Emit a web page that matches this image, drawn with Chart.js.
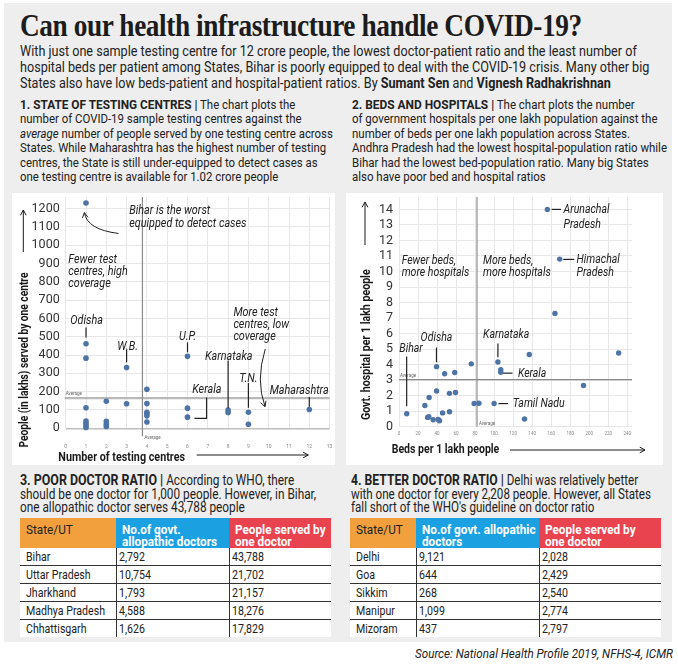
<!DOCTYPE html>
<html><head><meta charset="utf-8">
<script src="https://cdn.jsdelivr.net/npm/chart.js@4"></script>
<style>
body{margin:0;width:678px;height:664px;background:#fff;position:relative;overflow:hidden;font-family:Roboto,'Liberation Sans',sans-serif;color:#222}
.abs{position:absolute;white-space:nowrap}
#bg{left:4px;top:3px;width:668px;height:639px;background:#eeeeee}
#title{left:20px;top:7px;font:bold 32px 'Liberation Serif',serif;letter-spacing:-0.5px;color:#1c1c1c}
#sub{left:20px;top:44px;font-size:14.5px;line-height:16px}
.sec{font-size:13px;line-height:14.4px}
.sec b{font-size:13.5px}
.sec2{font-size:13.8px;line-height:13.6px}
.sec2 b{font-size:14.5px}
.panel{background:#fff}
table{border-collapse:collapse;position:absolute;table-layout:fixed}
th{font-weight:bold;color:#fff;text-align:left;vertical-align:top;font-size:13px;line-height:12px;padding:6px 0 0 6px;height:24px;white-space:nowrap;overflow:visible}
th.o{background:#f2a03d;color:#222;font-weight:normal}
th.b{background:#1ba1e2}
th.r{background:#e8434f}
td{font-size:13.5px;height:17px;line-height:17px;padding:0 0 0 6px;background:#fff;border-bottom:1px solid #333;white-space:nowrap;overflow:visible}
td+td{border-left:1.5px solid #333;padding-left:2px}
tr:last-child td{border-bottom:none}
.k{display:inline-block;transform-origin:0 50%}
#src{top:645px;font-style:italic;font-size:13.5px}
</style></head>
<body>
<div id="bg" class="abs"></div>
<div id="title" class="abs">Can our health infrastructure handle COVID-19?</div>
<div id="sub" class="abs">With just one sample testing centre for 12 crore people, the lowest doctor-patient ratio and the least number of<br>hospital beds per patient among States, Bihar is poorly equipped to deal with the COVID-19 crisis. Many other big<br>States also have low beds-patient and hospital-patient ratios. By <b>Sumant Sen</b> and <b>Vignesh Radhakrishnan</b></div>
<div id="s1" class="abs sec" style="left:20px;top:97px"><b>1. STATE OF TESTING CENTRES |</b> The chart plots the<br>number of COVID-19 sample testing centres against the<br><i>average</i> number of people served by one testing centre across<br>States. While Maharashtra has the highest number of testing<br>centres, the State is still under-equipped to detect cases as<br>one testing centre is available for 1.02 crore people</div>
<div id="s2" class="abs sec" style="left:352px;top:97px"><b>2. BEDS AND HOSPITALS |</b> The chart plots the number<br>of government hospitals per one lakh population against the<br>number of beds per one lakh population across States.<br>Andhra Pradesh had the lowest hospital-population ratio while<br>Bihar had the lowest bed-population ratio. Many big States<br>also have poor bed and hospital ratios</div>
<div class="abs panel" style="left:12px;top:193px;width:323px;height:272px"><canvas id="c1" width="323" height="272"></canvas></div>
<div class="abs panel" style="left:346px;top:193px;width:317px;height:272px"><canvas id="c2" width="317" height="272"></canvas></div>
<div id="s3" class="abs sec2" style="left:20px;top:474px"><b>3. POOR DOCTOR RATIO |</b> According to WHO, there<br>should be one doctor for 1,000 people. However, in Bihar,<br>one allopathic doctor serves 43,788 people</div>
<div id="s4" class="abs sec2" style="left:351px;top:474px"><b>4. BETTER DOCTOR RATIO |</b> Delhi was relatively better<br>with one doctor for every 2,208 people. However, all States<br>fall short of the WHO's guideline on doctor ratio</div>
<table id="t3" style="left:20px;top:518px;width:311px"><colgroup><col style="width:96px"><col style="width:113px"><col style="width:102px"></colgroup></table>
<table id="t4" style="left:350px;top:518px;width:311px"><colgroup><col style="width:66px"><col style="width:123px"><col style="width:122px"></colgroup></table>
<div id="src" class="abs">Source: National Health Profile 2019, NFHS-4, ICMR</div>
<script>
// ---------- DATA ----------
// Chart 1: testing centres vs people served per centre (lakhs)
const testCentres      = [1, 1, 1, 1, 1, 1, 1, 1, 2, 2, 2, 2, 3, 3, 4, 4, 4, 4, 4, 4, 6, 6, 6, 8, 8, 9, 9, 12];
const peoplePerCentre  = [1230, 462, 383, 112, 40, 28, 15, 4, 148, 38, 22, 10, 332, 134, 213, 135, 88, 80, 68, 34, 393, 110, 61, 100, 86, 88, 22, 103];
const testAvgCentres = 3.78;
const testAvgPeople  = 165;
const testXTicks = [0,1,2,3,4,5,6,7,8,9,10,11,12,13];
const testYTicks = [0,100,200,300,400,500,600,700,800,900,1000,1100,1200];
// Chart 2: beds vs hospitals per lakh
const bedsPerLakh      = [156, 169, 164, 231, 137, 194, 132, 104, 107, 107, 100, 79, 84, 76, 39.5, 48, 58.6, 39.5, 53, 59.4, 31.7, 27.2, 8.1, 30.1, 31.4, 35.9, 41.2, 42.6, 45.8, 53.1];
const hospitalsPerLakh = [14.0, 10.8, 7.3, 4.75, 4.65, 2.65, 0.5, 4.17, 3.68, 3.51, 1.49, 1.49, 1.51, 4.05, 3.87, 3.41, 3.49, 2.30, 2.15, 2.20, 1.88, 1.37, 0.83, 0.60, 0.64, 0.45, 0.47, 0.38, 0.89, 0.96];
const bedsAvg = 82;
const hospAvg = 3.03;
const bedsXTicks = [0,20,40,60,80,100,120,140,160,180,200,220,240];
const hospYTicks = [0,1,2,3,4,5,6,7,8,9,10,11,12,13,14];
// Tables
const t3States  = ['Bihar','Uttar Pradesh','Jharkhand','Madhya Pradesh','Chhattisgarh'];
const t3Doctors = ['2,792','10,754','1,793','4,588','1,626'];
const t3Served  = ['43,788','21,702','21,157','18,276','17,829'];
const t4States  = ['Delhi','Goa','Sikkim','Manipur','Mizoram'];
const t4Doctors = ['9,121','644','268','1,099','437'];
const t4Served  = ['2,028','2,429','2,540','2,774','2,797'];

// ---------- helpers ----------
const mctx = document.createElement('canvas').getContext('2d');
function textW(font, t){ mctx.font = font; return mctx.measureText(t).width; }
function fitEl(id, w){
  const el = document.getElementById(id);
  const nat = el.offsetWidth;
  el.style.transformOrigin = '0 0';
  el.style.transform = 'scaleX(' + (w/nat) + ')';
}

// ---------- TABLES ----------
const kBody = 79 / textW('13.5px Roboto', 'Madhya Pradesh');
const kHead = 95 / textW('bold 13px Roboto', 'allopathic doctors');
function sp(t, k){ return '<span class="k" style="transform:scaleX('+k+')">'+t+'</span>'; }
function fillTable(id, heads, a, b, c){
  const t = document.getElementById(id);
  let h = '<tr>' + ['o','b','r'].map((cl,i)=>'<th class="'+cl+'">'+heads[i].map(x=>sp(x,kHead)).join('<br>')+'</th>').join('') + '</tr>';
  a.forEach((s,i)=>{ h += '<tr><td>'+sp(s,kBody)+'</td><td>'+sp(b[i],kBody)+'</td><td>'+sp(c[i],kBody)+'</td></tr>'; });
  t.insertAdjacentHTML('beforeend', h);
}
fillTable('t3', [['State/UT'],['No.of govt.','allopathic doctors'],['People served by','one doctor']], t3States, t3Doctors, t3Served);
fillTable('t4', [['State/UT'],['No.of govt. allopathic','doctors'],['People served by','one doctor']], t4States, t4Doctors, t4Served);

fitEl('title', 562);
fitEl('sub', 629);
fitEl('s1', 313);
fitEl('s2', 315);
fitEl('s3', 296);
fitEl('s4', 300);
(function(){ const el=document.getElementById('src'); const nat=el.offsetWidth; const w=258; el.style.left=(673-w)+'px'; el.style.transformOrigin='0 0'; el.style.transform='scaleX('+(w/nat)+')'; })();

// ---------- CHARTS ----------
const F = "Roboto,'Liberation Sans',sans-serif";
const DOT = '#4e74a6';

function arrowHead(ctx, x, y, ang, s){
  ctx.beginPath();
  ctx.moveTo(x - s*Math.cos(ang-0.5), y - s*Math.sin(ang-0.5));
  ctx.lineTo(x, y);
  ctx.lineTo(x - s*Math.cos(ang+0.5), y - s*Math.sin(ang+0.5));
  ctx.stroke();
}
function fillK(ctx, t, x, y, align, k){
  ctx.save(); ctx.translate(x, y); ctx.scale(k, 1); ctx.textAlign = align; ctx.fillText(t, 0, 0); ctx.restore();
}
function noPad(s){ s.paddingTop = 0; s.paddingBottom = 0; s.paddingLeft = 0; s.paddingRight = 0; }

function decor(cfg){
  return {
    id:'decor',
    beforeDatasetsDraw(chart){
      const {ctx, chartArea:a, scales:{x,y}} = chart;
      ctx.save();
      const ax = x.getPixelForValue(cfg.avgX), ay = y.getPixelForValue(cfg.avgY);
      ctx.strokeStyle = cfg.hColor; ctx.lineWidth = cfg.hWidth;
      ctx.beginPath(); ctx.moveTo(a.left - cfg.hExtL, ay); ctx.lineTo(a.right, ay); ctx.stroke();
      ctx.strokeStyle = '#8a8a8a'; ctx.lineWidth = 1.2;
      ctx.beginPath(); ctx.moveTo(ax, a.top); ctx.lineTo(ax, a.bottom + cfg.vExt); ctx.stroke();
      ctx.fillStyle = '#666'; ctx.font = '4.5px ' + F; ctx.textBaseline = 'middle'; ctx.textAlign = 'left';
      ctx.fillText('Average', a.left - cfg.hExtL + 1, ay - 4);
      ctx.fillText('Average', ax + 2, a.bottom + cfg.vLab);
      ctx.restore();
    },
    afterDatasetsDraw(chart){
      const {ctx, scales:{x,y}} = chart;
      ctx.save();
      ctx.strokeStyle = '#222'; ctx.lineWidth = 1.2;
      cfg.lines.forEach(l=>{
        ctx.beginPath();
        l.forEach((p,i)=>{ const px=x.getPixelForValue(p[0]), py=y.getPixelForValue(p[1]); i?ctx.lineTo(px,py):ctx.moveTo(px,py); });
        ctx.stroke();
      });
      (cfg.curves||[]).forEach(c=>{
        const p0=[x.getPixelForValue(c.from[0]),y.getPixelForValue(c.from[1])];
        const pc=[x.getPixelForValue(c.ctrl[0]),y.getPixelForValue(c.ctrl[1])];
        const p1=[x.getPixelForValue(c.to[0]),y.getPixelForValue(c.to[1])];
        ctx.lineWidth = 1;
        ctx.beginPath(); ctx.moveTo(p0[0],p0[1]); ctx.quadraticCurveTo(pc[0],pc[1],p1[0],p1[1]); ctx.stroke();
        arrowHead(ctx, p1[0], p1[1], Math.atan2(p1[1]-pc[1], p1[0]-pc[0]), 6);
      });
      const nf = 'italic ' + cfg.noteSize + 'px ' + F;
      ctx.fillStyle = '#222'; ctx.font = nf; ctx.textBaseline = 'middle';
      const k = cfg.noteRef[1] / ctx.measureText(cfg.noteRef[0]).width;
      cfg.notes.forEach(n=>{
        const px = x.getPixelForValue(n.x), py = y.getPixelForValue(n.y);
        n.text.forEach((t,i)=>fillK(ctx, t, px, py + i*(n.lh||12), n.align||'left', k));
      });
      ctx.font = 'bold 12.5px ' + F; ctx.fillStyle = '#1a1a1a'; ctx.strokeStyle = '#1a1a1a'; ctx.lineWidth = 1;
      const yt = cfg.yTitle;
      const ky = yt.w / ctx.measureText(yt.text).width;
      ctx.save(); ctx.translate(yt.x, yt.y); ctx.rotate(-Math.PI/2); fillK(ctx, yt.text, 0, 0, 'center', ky); ctx.restore();
      ctx.beginPath(); ctx.moveTo(yt.ax, yt.a0); ctx.lineTo(yt.ax, yt.a1); ctx.stroke();
      arrowHead(ctx, yt.ax, yt.a1, -Math.PI/2, 6);
      const xt = cfg.xTitle;
      const kx = xt.w / ctx.measureText(xt.text).width;
      fillK(ctx, xt.text, xt.x, xt.y, 'left', kx);
      ctx.beginPath(); ctx.moveTo(xt.a0, xt.ay); ctx.lineTo(xt.a1, xt.ay); ctx.stroke();
      arrowHead(ctx, xt.a1, xt.ay, 0, 6);
      ctx.restore();
    }
  };
}

Chart.defaults.font.family = F;

const chart1Decor = {
  avgX: testAvgCentres, avgY: testAvgPeople, hColor:'#b8b8b8', hWidth:2.2, hExtL:1, vExt:8, vLab:10,
  noteSize: 13, noteRef: ['Maharashtra', 59],
  lines: [
    [[1,550],[1,496]], [[3,428],[3,361]], [[6,469],[6,415]], [[8,370],[8,110]],
    [[9,247],[9,112]], [[12,171],[12,117]], [[6.94,168],[6.94,54],[6.34,54]]
  ],
  curves: [
    {from:[2.6,1064], ctrl:[1.05,1085], to:[0.92,1178]},
    {from:[9.83,433], ctrl:[9.35,262], to:[9.82,118]}
  ],
  notes: [
    {text:['Bihar is the worst','equipped to detect cases'], x:3.13, y:1186, lh:12.4},
    {text:['Fewer test','centres, high','coverage'], x:0.13, y:920, lh:12},
    {text:['More test','centres, low','coverage'], x:8.26, y:631, lh:12},
    {text:['Odisha'], x:1.03, y:590, align:'center'},
    {text:['W.B.'], x:3.05, y:445, align:'center'},
    {text:['U.P.'], x:6.0, y:501, align:'center'},
    {text:['Karnataka'], x:8.03, y:393, align:'center'},
    {text:['T.N.'], x:9.0, y:269, align:'center'},
    {text:['Maharashtra'], x:11.5, y:206, align:'center'},
    {text:['Kerala'], x:6.95, y:213, align:'center'}
  ],
  yTitle:{text:'People (in lakhs) served by one centre', w:175, x:13, y:167, ax:11.3, a0:59, a1:17},
  xTitle:{text:'Number of testing centres', w:126.7, x:46.3, y:264.7, a0:184.7, a1:296.3, ay:262}
};

new Chart(document.getElementById('c1'), {
  type:'scatter',
  data:{datasets:[{data:testCentres.map((v,i)=>({x:v, y:peoplePerCentre[i]})), backgroundColor:DOT, borderColor:DOT, pointRadius:2.8, borderWidth:0, clip:false}]},
  options:{
    responsive:false, animation:false, events:[],
    layout:{padding:{left:0,right:5.4,top:2,bottom:0}},
    plugins:{legend:{display:false}, tooltip:{enabled:false}},
    scales:{
      x:{type:'linear', min:0, max:13,
        afterBuildTicks(s){ s.ticks = testXTicks.map(v=>({value:v})); },
        ticks:{font:{size:5}, color:'#888', padding:15, maxRotation:0, autoSkip:false, callback:v=>String(v)},
        grid:{color:'#e7e7e7', drawTicks:false}, border:{display:false},
        afterFit(s){ s.height = 36.7; noPad(s); }},
      y:{min:0, max:1263,
        afterBuildTicks(s){ s.ticks = testYTicks.map(v=>({value:v})); },
        ticks:{font:{size:12.5}, color:'#333', padding:6, autoSkip:false, callback:v=>String(v)},
        grid:{color:c=>(c.tick && c.tick.value===0)?'#bdbdbd':'#e7e7e7', lineWidth:c=>(c.tick && c.tick.value===0)?1.5:1, drawTicks:false}, border:{display:false},
        afterFit(s){ s.width = 53.7; noPad(s); }}
    }
  },
  plugins:[decor(chart1Decor)]
});

const chart2Decor = {
  avgX: bedsAvg, avgY: hospAvg, hColor:'#8a8a8a', hWidth:1.2, hExtL:0, vExt:0, vLab:-3,
  noteSize: 13.5, noteRef: ['more hospitals', 67.7],
  lines: [
    [[160.5,14.0],[170.3,14.0]], [[172.8,10.78],[184.3,10.78]], [[104,5.36],[104,4.47]],
    [[39.4,5.1],[39.4,4.15]], [[8.06,4.53],[8.06,1.32]], [[109.6,3.45],[119.4,3.45]], [[104.6,1.49],[114.7,1.49]]
  ],
  notes: [
    {text:['Arunachal','Pradesh'], x:173, y:13.98, lh:14.6},
    {text:['Himachal','Pradesh'], x:186.7, y:10.79, lh:13.3},
    {text:['Fewer beds,','more hospitals'], x:2.8, y:10.68, lh:11.7},
    {text:['More beds,','more hospitals'], x:88.3, y:10.68, lh:11.7},
    {text:['Karnataka'], x:88.3, y:5.92},
    {text:['Odisha'], x:39.4, y:5.72, align:'center'},
    {text:['Bihar'], x:0.3, y:5.04},
    {text:['Kerala'], x:125, y:3.44},
    {text:['Tamil Nadu'], x:119.7, y:1.49}
  ],
  yTitle:{text:'Govt. hospital per 1 lakh people', w:150.7, x:20.7, y:151.7, ax:19, a0:52, a1:9},
  xTitle:{text:'Beds per 1 lakh people', w:107.6, x:45.7, y:257, a0:164, a1:299, ay:257}
};

new Chart(document.getElementById('c2'), {
  type:'scatter',
  data:{datasets:[{data:bedsPerLakh.map((v,i)=>({x:v, y:hospitalsPerLakh[i]})), backgroundColor:DOT, borderColor:DOT, pointRadius:2.7, borderWidth:0, clip:false}]},
  options:{
    responsive:false, animation:false, events:[],
    layout:{padding:{left:0,right:31,top:2,bottom:0}},
    plugins:{legend:{display:false}, tooltip:{enabled:false}},
    scales:{
      x:{type:'linear', min:0, max:245,
        afterBuildTicks(s){ s.ticks = bedsXTicks.map(v=>({value:v})); },
        ticks:{font:{size:4.5}, color:'#888', padding:4, maxRotation:0, autoSkip:false, callback:v=>String(v)},
        grid:{color:'#e7e7e7', drawTicks:false}, border:{display:false},
        afterFit(s){ s.height = 38.3; noPad(s); }},
      y:{min:0, max:14.8,
        afterBuildTicks(s){ s.ticks = hospYTicks.map(v=>({value:v})); },
        ticks:{font:{size:12.5}, color:'#333', padding:6, autoSkip:false, callback:v=>String(v)},
        grid:{color:'#e7e7e7', drawTicks:false}, border:{display:false},
        afterFit(s){ s.width = 53; noPad(s); }}
    }
  },
  plugins:[decor(chart2Decor)]
});
</script>
</body></html>
